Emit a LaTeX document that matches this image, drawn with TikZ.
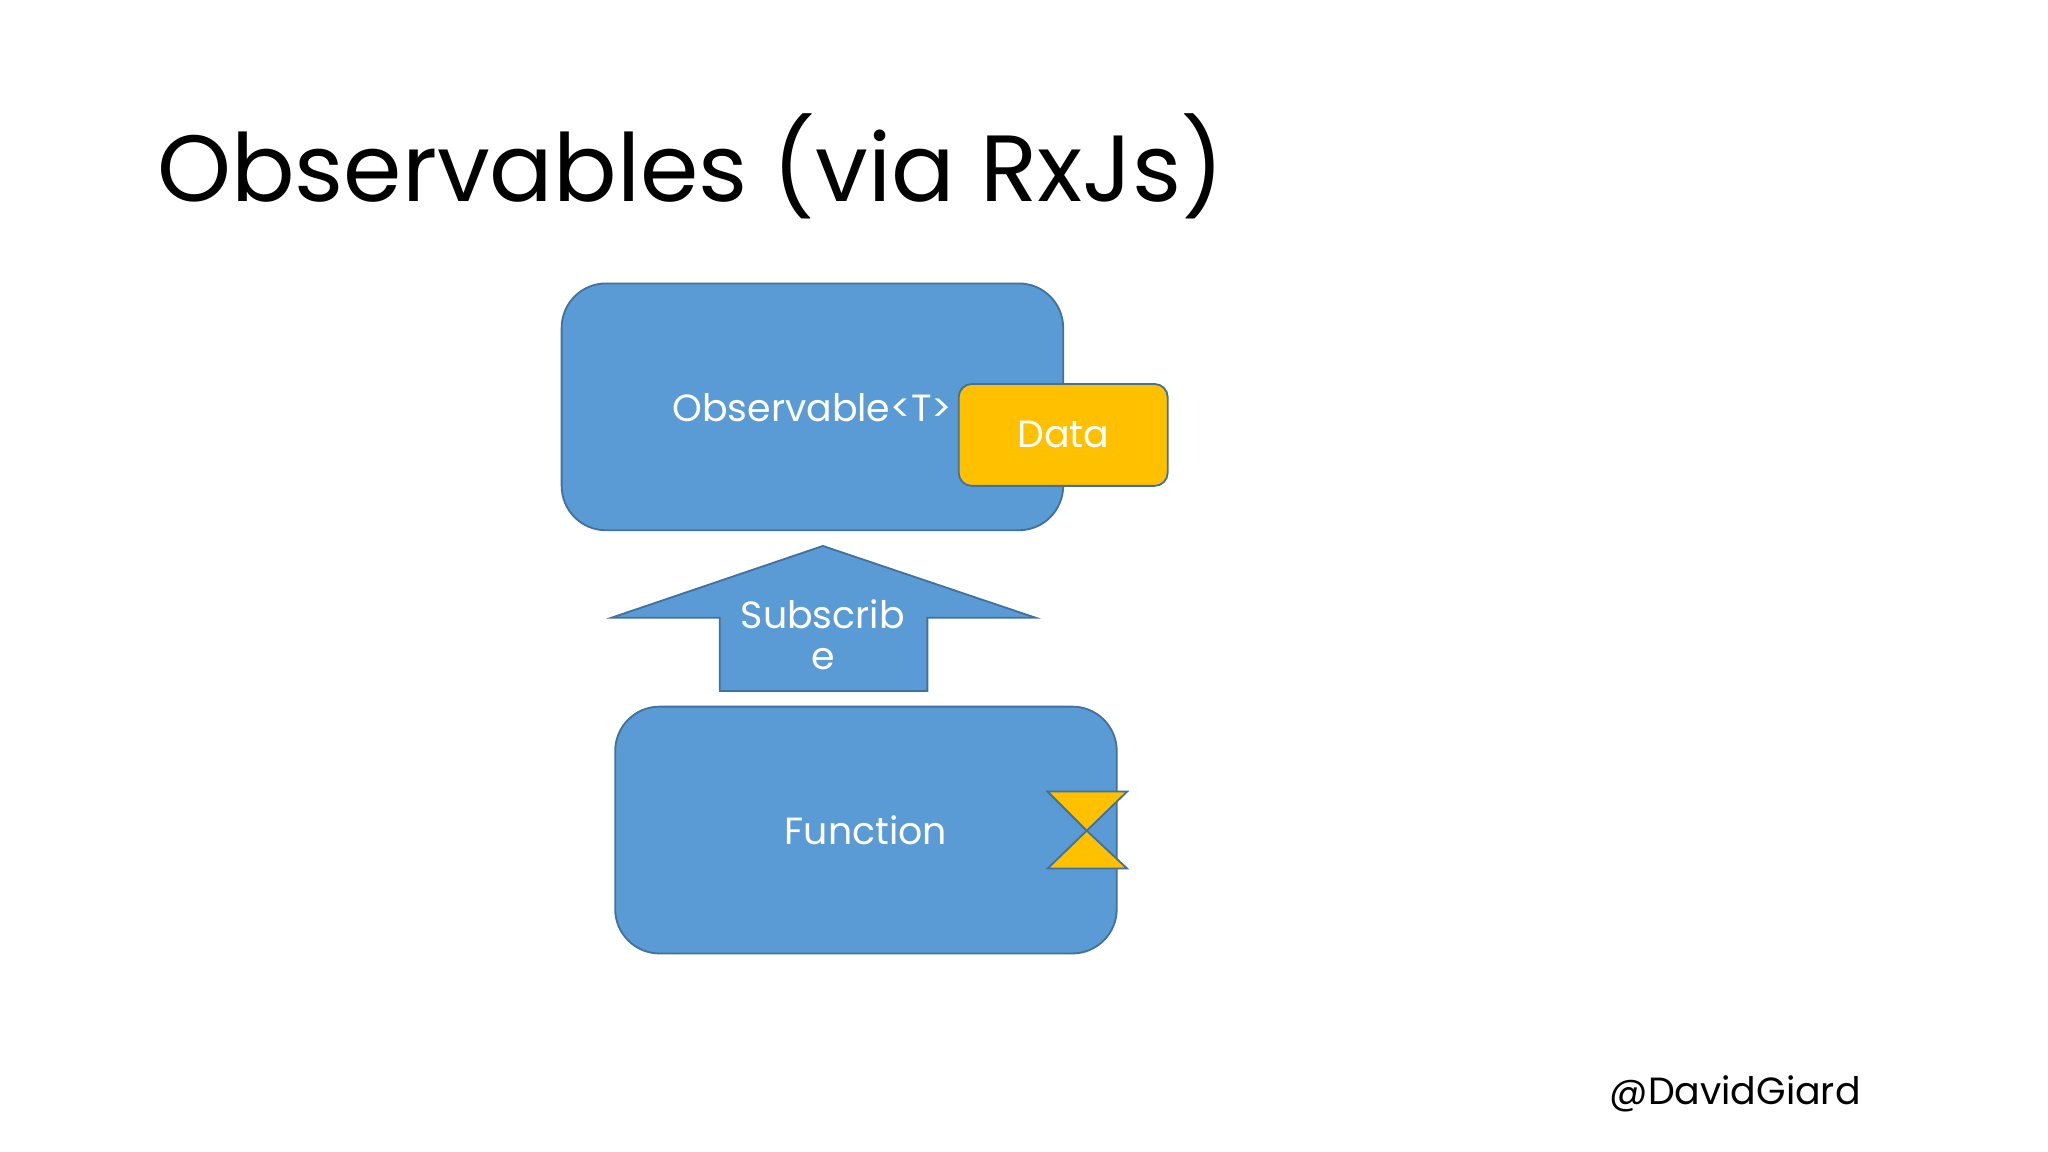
\documentclass[tikz,border=0pt]{standalone}
\usepackage{fontspec}
\setmainfont{Poppins}
\definecolor{bfill}{HTML}{5B9BD5}
\definecolor{bline}{HTML}{41719C}
\definecolor{yfill}{HTML}{FFC000}
\begin{document}
\begin{tikzpicture}[x=0.5pt,y=-0.5pt,
  blue/.style={fill=bfill,draw=bline,line width=0.7pt},
  yel/.style={fill=yfill,draw=bline,line width=0.7pt},
  wt/.style={text=white,inner sep=0pt,font=\fontsize{14.5}{17}\selectfont}]
\useasboundingbox (0,0) rectangle (1568,882);
\fill[white] (0,0) rectangle (1568,882);
\node[anchor=base west,inner sep=0pt,font=\fontsize{36}{44}\selectfont] (title) at (120,154) {Observables (via RxJs)};
\draw[blue,rounded corners=17pt] (430,217) rectangle (814,406);
\node[wt] (obs) at (622,312) {Observable<T>};
\draw[yel,rounded corners=5pt] (734,294) rectangle (894,372);
\node[wt] (data) at (814,333) {Data};
\draw[blue] (630,418) -- (793,473) -- (710,473) -- (710,529) -- (551,529) -- (551,473) -- (468,473) -- cycle;
\node[wt] (sub1) at (630,470) {Subscrib};
\node[wt] (sub2) at (630,505) {e};
\draw[blue,rounded corners=17pt] (471,541) rectangle (855,730);
\node[wt] (fun) at (663,636) {Function};
\draw[yel] (802,606) -- (863,606) -- (832,636) -- cycle;
\draw[yel] (832,636) -- (863,665) -- (802,665) -- cycle;
\node[anchor=base east,inner sep=0pt,font=\fontsize{14.5}{18}\selectfont] (tw) at (1425,846) {@DavidGiard};
\end{tikzpicture}
\end{document}
